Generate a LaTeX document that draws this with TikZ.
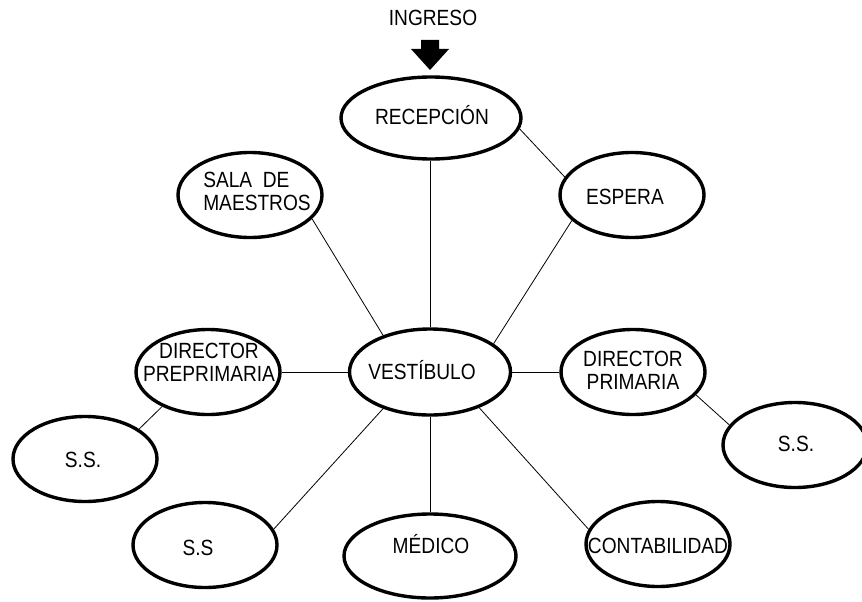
\documentclass[tikz,border=0pt]{standalone}
\usepackage{fontspec}
\setmainfont{Liberation Sans}[FakeStretch=0.87]
\usepackage{tikz}
\usetikzlibrary{shapes.geometric, positioning, calc}
\tikzset{
	room/.style ={ellipse, draw=black, line width=3.4pt, minimum width=144pt, minimum height=85pt, inner sep=0pt},
	tag/.style  ={anchor=base, align=center, inner sep=0pt, font=\fontsize{22}{22.5}\selectfont},
	link/.style ={line width=0.8pt},
}

\begin{document}
\begin{tikzpicture}[x=1pt, y=-1pt]
	\useasboundingbox (0,0) rectangle (862,602);
	\node[room, minimum width=180pt, minimum height=82pt] (rec) at (431,118) {};
	\node[room] (sal) at (250,195) {};
	\node[room] (esp) at (632,195) {};
	\node[room] (pre) at (208,372) {};
	\node[room, minimum width=161pt, minimum height=86pt] (vest) at (430,372) {};
	\node[room] (pri) at (633,372) {};
	\node[room] (ssl) at (85,459) {};
	\node[room] (ssr) at (795,445) {};
	\node[room] (ssb) at (205,545) {};
	\node[room, minimum width=172pt, minimum height=84pt] (med) at (430,556) {};
	\node[room] (con) at (658,544) {};
	\node[tag] (ingT) at (433,26) {INGRESO};
	\node[tag] (recT) at (432,124) {RECEPCIÓN};
	\node[tag, align=left] (salT) at (257,210) {SALA\ \ DE\\MAESTROS};
	\node[tag] (espT) at (625,204) {ESPERA};
	\node[tag] (preT) at (209,381) {DIRECTOR\\PREPRIMARIA};
	\node[tag] (vestT) at (422,379) {VESTÍBULO};
	\node[tag] (priT) at (633,389) {DIRECTOR\\PRIMARIA};
	\node[tag] (sslT) at (83,467) {S.S.};
	\node[tag] (ssrT) at (796,451) {S.S.};
	\node[tag] (ssbT) at (198,555) {S.S};
	\node[tag] (medT) at (431,553) {MÉDICO};
	\node[tag] (conT) at (658,553) {CONTABILIDAD};
	\fill (421,40) -- (439,40) -- (439,49) -- (449,49) -- (430,70) -- (411,49) -- (421,49) -- cycle;
	\draw[link] (vest.north |- rec.south) -- (vest.north);
	\draw[link] (vest.south) -- (med.north);
	\draw[link] (pre.east) -- (vest.west);
	\draw[link] (vest.east) -- (pri.west);
	\draw[link] (rec.-7) -- (esp.165);
	\draw[link] (sal.-21) -- (vest.142);
	\draw[link] (esp.203) -- (vest.24);
	\draw[link] (pre.217) -- (ssl.29);
	\draw[link] (pri.-20) -- (ssr.163);
	\draw[link] (vest.218) -- (ssb.13);
	\draw[link] (vest.-36.5) -- (con.168);
\end{tikzpicture}
\end{document}
